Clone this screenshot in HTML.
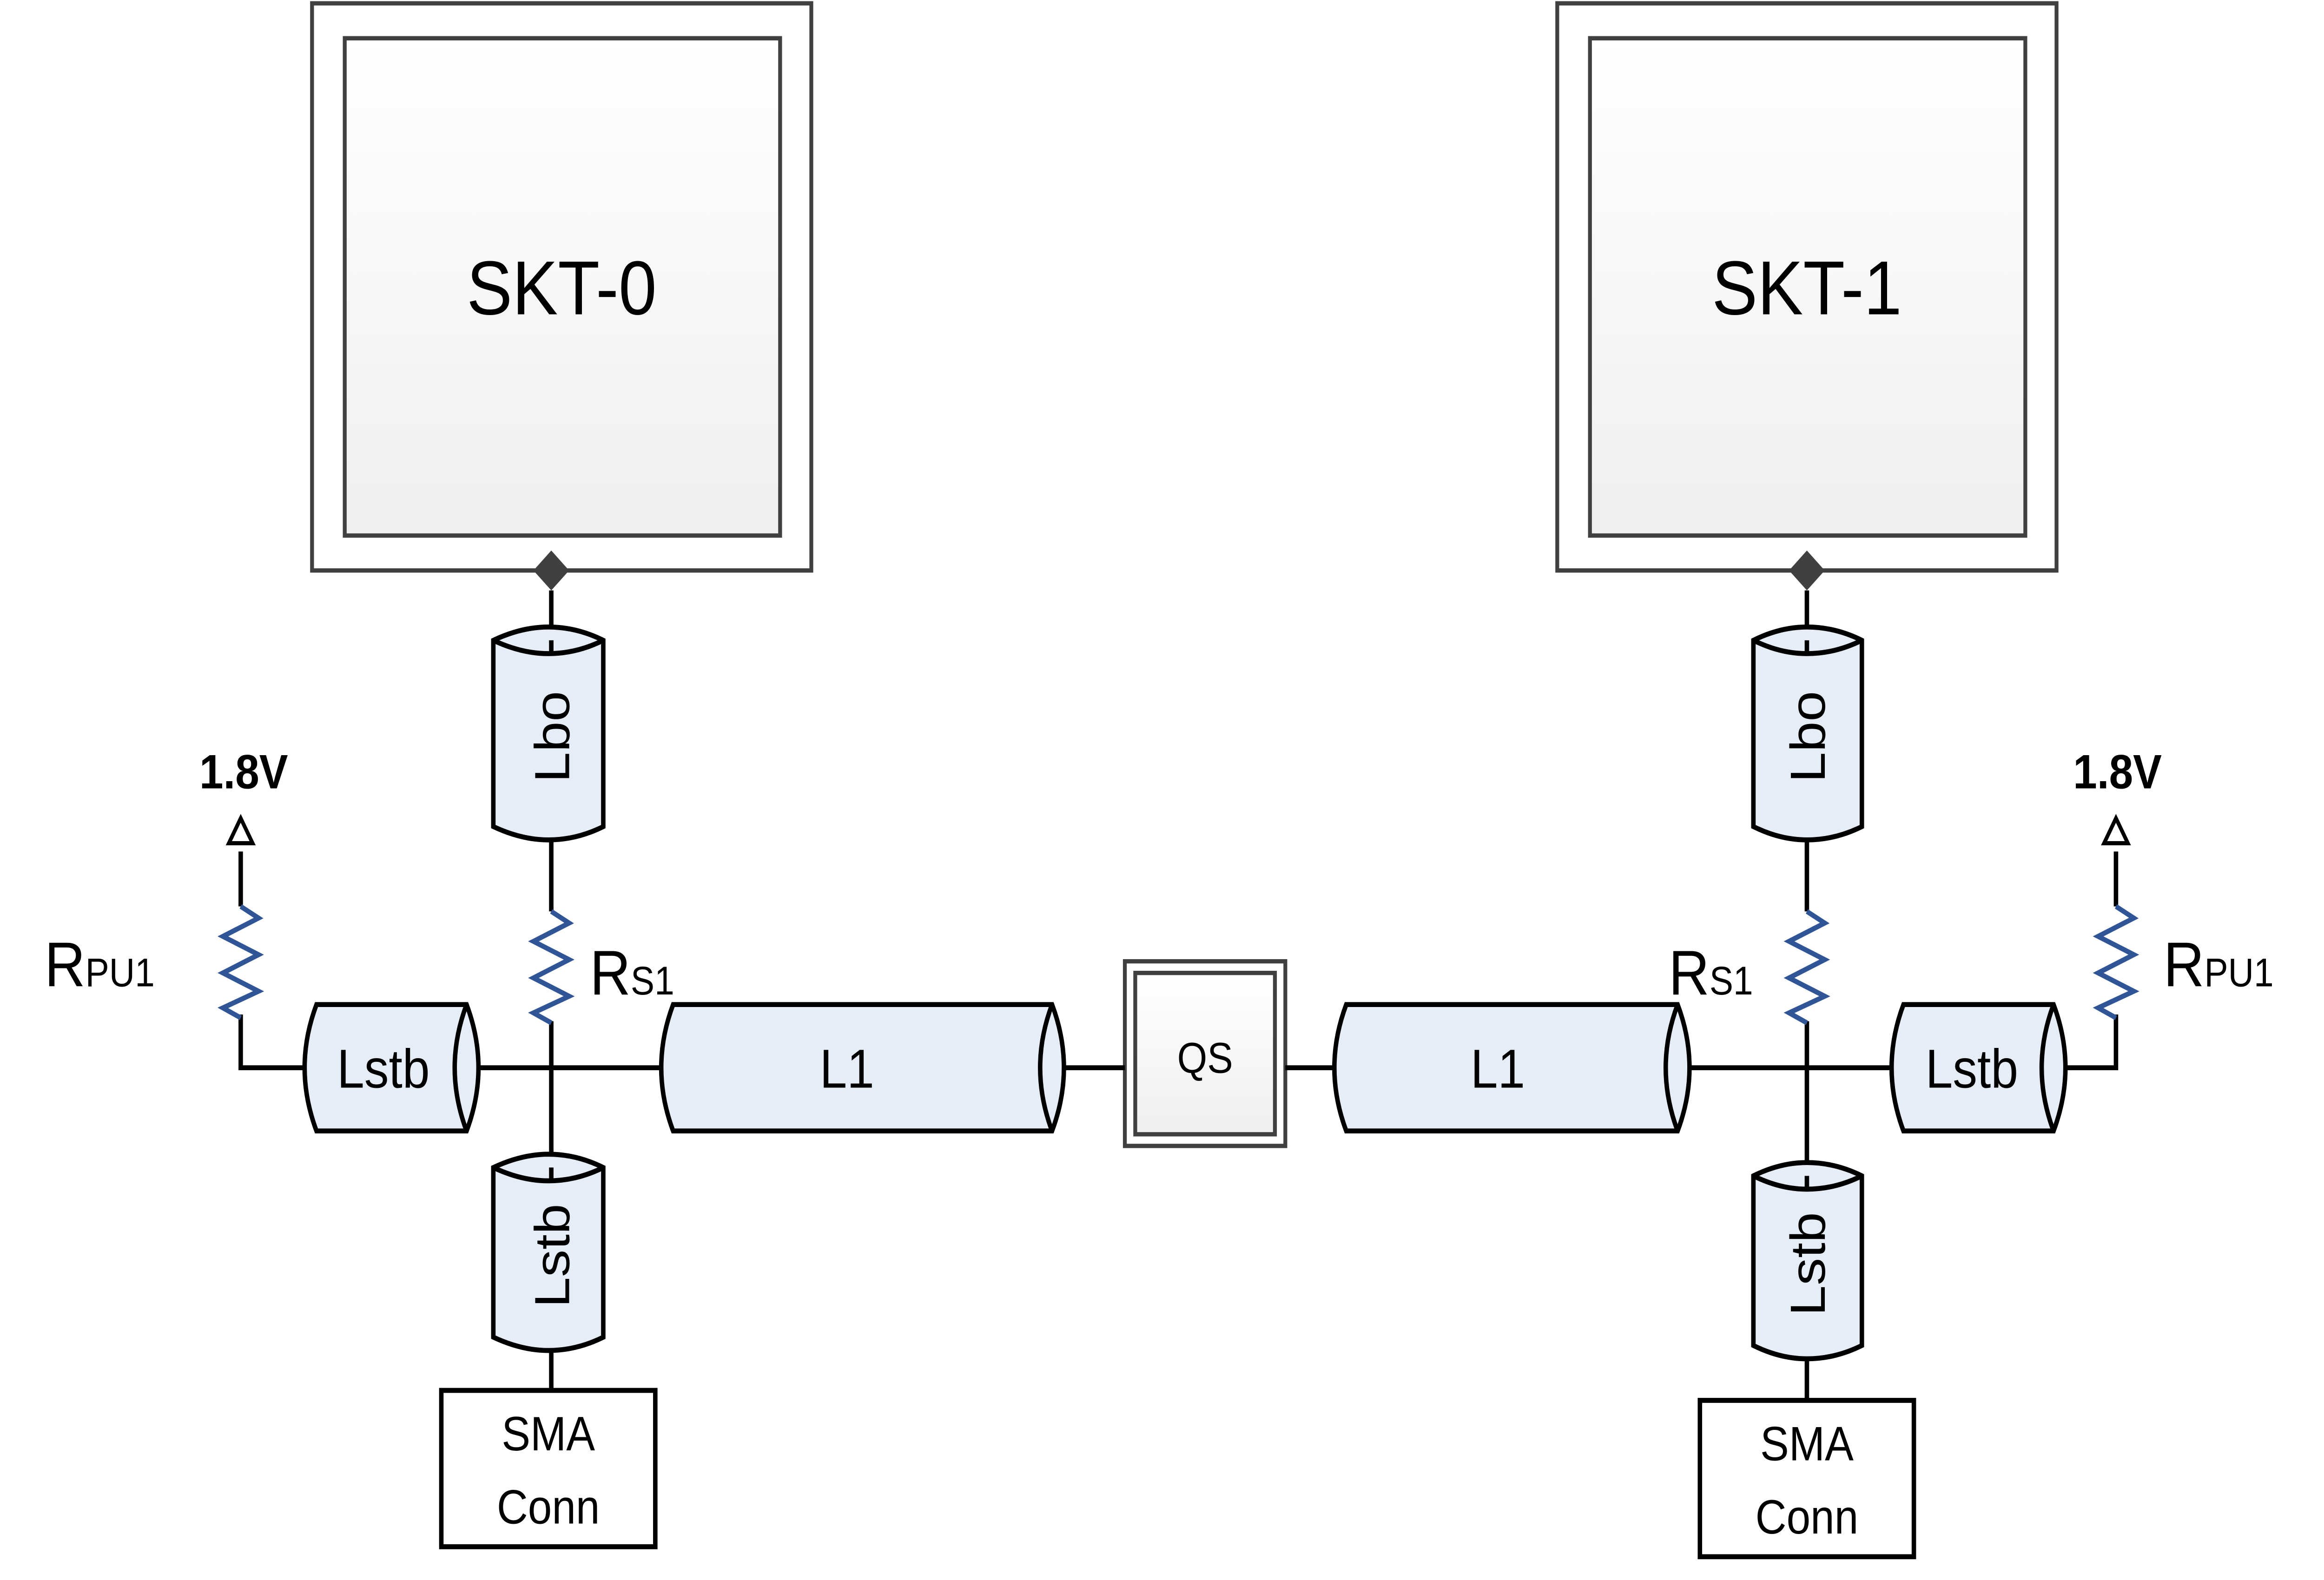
<!DOCTYPE html>
<html><head><meta charset="utf-8"><style>
html,body{margin:0;padding:0;background:#fff;width:100%;height:100%;overflow:hidden}
svg{display:block;position:absolute;left:0;top:0;width:100vw;height:100vh}
text{font-family:"Liberation Sans",sans-serif}
</style></head><body>
<svg viewBox="0 0 1564 950" preserveAspectRatio="none" xmlns="http://www.w3.org/2000/svg">
<defs>
<linearGradient id="g" x1="0" y1="0" x2="0" y2="1"><stop offset="0" stop-color="#ffffff"/><stop offset="1" stop-color="#efefef"/></linearGradient>
</defs>
<g fill="none" stroke="#404040" stroke-width="2.6">
<rect x="210" y="2" width="336" height="341" fill="#fff"/>
<rect x="232" y="23" width="293" height="299" fill="url(#g)"/>
<rect x="1048" y="2" width="336" height="341" fill="#fff"/>
<rect x="1070" y="23" width="293" height="299" fill="url(#g)"/>
<rect x="757" y="578" width="108" height="111" fill="#fff"/>
<rect x="764" y="585" width="94" height="97" fill="url(#g)"/>
</g>
<text x="378" y="189" font-size="46" text-anchor="middle">SKT-0</text>
<text x="1216" y="189" font-size="46" text-anchor="middle">SKT-1</text>
<text x="811" y="645" font-size="26" text-anchor="middle">QS</text>
<path d="M371 331 L383 343 L371 355 L359 343Z M1216 331 L1228 343 L1216 355 L1204 343Z" fill="#404040"/>
<g stroke="#000" stroke-width="3" fill="none">
<path d="M371 355 V390 M371 505 V548 M371 614 V705 M371 812 V836"/>
<path d="M1216 355 V390 M1216 505 V548 M1216 614 V710 M1216 817 V842"/>
<path d="M162 512 V545 M162 610 V642 H210 M316 642 H452 M708 642 H757 M865 642 H905 M1130 642 H1280 M1384 642 H1424 V610 M1424 545 V512"/>
<path d="M162 492 L154 507 H170Z M1424 492 L1416 507 H1432Z" stroke-width="2.5"/>
</g>
<g stroke="#2f5597" stroke-width="3" fill="none">
<path d="M162 545 L174 552 L150 563 L174 574 L150 585 L174 596 L150 606 L162 612"/>
<path d="M371 548 L383 555 L359 566 L383 577 L359 588 L383 599 L359 609 L371 615"/>
<path d="M1216 548 L1228 555 L1204 566 L1228 577 L1204 588 L1228 599 L1204 609 L1216 615"/>
<path d="M1424 545 L1436 552 L1412 563 L1436 574 L1412 585 L1436 596 L1412 606 L1424 612"/>
</g>
<g stroke="#000" stroke-width="3" fill="#e6edf7">
<path d="M213 604 H314 Q322 623 322 642 Q322 661 314 680 H213 Q205 661 205 642 Q205 623 213 604Z"/>
<path d="M314 604 Q306 623 306 642 Q306 661 314 680" fill="none"/>
<path d="M453 604 H708 Q716 623 716 642 Q716 661 708 680 H453 Q445 661 445 642 Q445 623 453 604Z"/>
<path d="M708 604 Q700 623 700 642 Q700 661 708 680" fill="none"/>
<path d="M906 604 H1129 Q1137 623 1137 642 Q1137 661 1129 680 H906 Q898 661 898 642 Q898 623 906 604Z"/>
<path d="M1129 604 Q1121 623 1121 642 Q1121 661 1129 680" fill="none"/>
<path d="M1281 604 H1382 Q1390 623 1390 642 Q1390 661 1382 680 H1281 Q1273 661 1273 642 Q1273 623 1281 604Z"/>
<path d="M1382 604 Q1374 623 1374 642 Q1374 661 1382 680" fill="none"/>
</g>
<g stroke="#000" stroke-width="3" fill="#e6edf7">
<path d="M332 385 Q351 377 369 377 Q388 377 406 385 V497 Q388 505 369 505 Q351 505 332 497Z"/>
<path d="M332 385 Q351 393 369 393 Q388 393 406 385" fill="none"/>
<path d="M332 702 Q351 694 369 694 Q388 694 406 702 V804 Q388 812 369 812 Q351 812 332 804Z"/>
<path d="M332 702 Q351 710 369 710 Q388 710 406 702" fill="none"/>
<path d="M1180 385 Q1198 377 1216 377 Q1235 377 1253 385 V497 Q1235 505 1216 505 Q1198 505 1180 497Z"/>
<path d="M1180 385 Q1198 393 1216 393 Q1235 393 1253 385" fill="none"/>
<path d="M1180 707 Q1198 699 1216 699 Q1235 699 1253 707 V809 Q1235 817 1216 817 Q1198 817 1180 809Z"/>
<path d="M1180 707 Q1198 715 1216 715 Q1235 715 1253 707" fill="none"/>
</g>
<g stroke="#000" stroke-width="3"><path d="M371 385 V393 M371 702 V710 M1216 385 V393 M1216 707 V715"/></g>
<g stroke="#000" stroke-width="3" fill="#fff">
<rect x="297" y="836" width="144" height="94"/>
<rect x="1144" y="842" width="144" height="94"/>
</g>
<g font-size="29" text-anchor="middle">
<text x="369" y="872">SMA</text><text x="369" y="916">Conn</text>
<text x="1216" y="878">SMA</text><text x="1216" y="922">Conn</text>
<text x="258" y="654" font-size="33">Lstb</text>
<text x="570" y="654" font-size="33">L1</text>
<text x="1008" y="654" font-size="33">L1</text>
<text x="1327" y="654" font-size="33">Lstb</text>
<text transform="translate(383 443) rotate(-90)" font-size="33">Lbo</text>
<text transform="translate(383 755) rotate(-90)" font-size="33">Lstb</text>
<text transform="translate(1228 443) rotate(-90)" font-size="33">Lbo</text>
<text transform="translate(1228 760) rotate(-90)" font-size="33">Lstb</text>
<text x="164" y="474" font-size="29" font-weight="bold">1.8V</text>
<text x="1425" y="474" font-size="29" font-weight="bold">1.8V</text>
</g>
<g font-size="38">
<text x="30" y="593">R<tspan font-size="24">PU1</tspan></text>
<text x="397" y="598">R<tspan font-size="24">S1</tspan></text>
<text x="1123" y="598">R<tspan font-size="24">S1</tspan></text>
<text x="1456" y="593">R<tspan font-size="24">PU1</tspan></text>
</g>
</svg>
</body></html>
